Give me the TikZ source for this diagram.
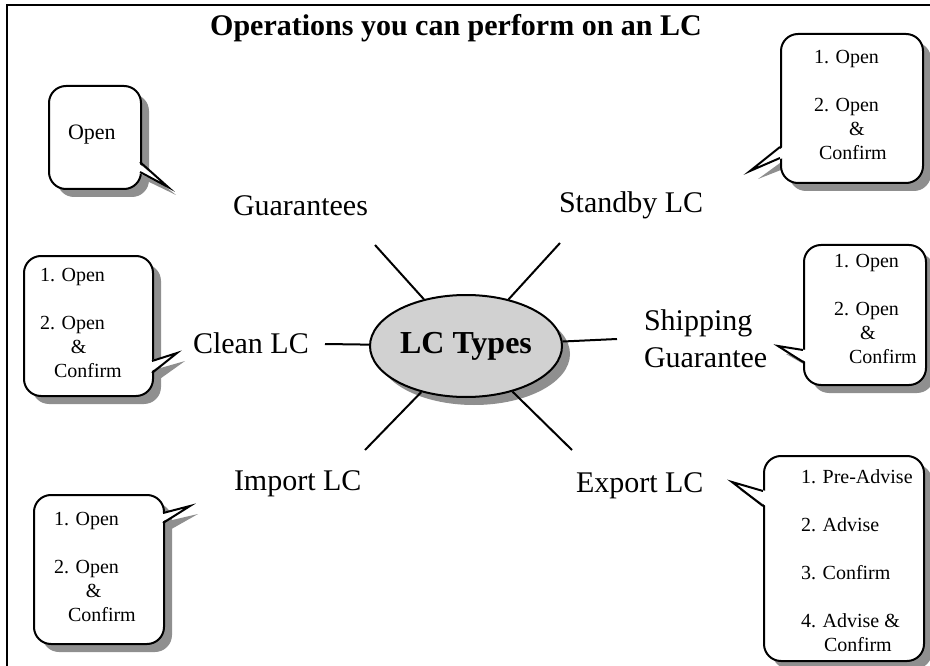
\documentclass[tikz,border=0pt]{standalone}
\usepackage{fontspec}
\setmainfont{Liberation Serif}
\usetikzlibrary{shapes.geometric,shadows}

\definecolor{shadowgray}{gray}{0.56}
\definecolor{ovalgray}{gray}{0.82}

\begin{document}
\begin{tikzpicture}[x=1pt,y=-1pt,line width=2pt,
  callout/.style={draw,fill=white,rounded corners=17pt,inner sep=0pt,anchor=north west,
    drop shadow={shadow xshift=8pt,shadow yshift=-8pt,fill=shadowgray,opacity=1}},
  item/.style={font=\fontsize{20}{24}\selectfont,align=left,inner sep=0pt,anchor=north west},
  kind/.style={font=\fontsize{30}{37}\selectfont,inner sep=0pt,anchor=base west}]
\useasboundingbox (0,0) rectangle (930,666);
\draw (7,680) -- (7,5) -- (940,5);

\foreach \ax/\ay/\px/\py/\bx/\by/\ix in {140/162/168/187/140/172/137, 780/147/750/171/780/158/783,
    152/361/177/353/152/373/149, 803/350/778/346/803/362/806,
    163/513/190/506/163/523/160, 763/491/732/482/763/506/766}
  \fill[shadowgray,shift={(8,8)}] (\ix,\ay) -- (\px,\py) -- (\ix,\by) -- cycle;

\node[callout,minimum width=92pt,minimum height=103pt] (openbox) at (48,85) {};
\node[callout,minimum width=142pt,minimum height=149pt] (standbox) at (780,33) {};
\node[callout,minimum width=129pt,minimum height=140pt] (cleanbox) at (23,255) {};
\node[callout,minimum width=122pt,minimum height=140pt] (shipbox) at (803,244) {};
\node[callout,minimum width=130pt,minimum height=149pt] (impbox) at (33,494) {};
\node[callout,minimum width=160pt,minimum height=205pt] (expbox) at (763,455) {};

\foreach \ax/\ay/\px/\py/\bx/\by/\ix in {140/162/168/187/140/172/137, 780/147/750/171/780/158/783,
    152/361/177/353/152/373/149, 803/350/778/346/803/362/806,
    163/513/190/506/163/523/160, 763/491/732/482/763/506/766}
{
  \fill[white] (\ix,\ay) -- (\px,\py) -- (\ix,\by) -- cycle;
  \draw (\ax,\ay) -- (\px,\py) -- (\bx,\by);
}

\node[item,anchor=base west,font=\fontsize{22}{26}\selectfont] (opentxt) at (67,140) {Open};
\node[item] (standtxt) at (813,49) {1. Open\\[24pt]2. Open\\\hspace*{35pt}\&\\\hspace*{5pt}Confirm};
\node[item] (cleantxt) at (39,267) {1. Open\\[24pt]2. Open\\\hspace*{31pt}\&\\\hspace*{14pt}Confirm};
\node[item] (shiptxt) at (833,253) {1. Open\\[24pt]2. Open\\\hspace*{26pt}\&\\\hspace*{15pt}Confirm};
\node[item] (imptxt) at (53,511) {1. Open\\[24pt]2. Open\\\hspace*{32pt}\&\\\hspace*{14pt}Confirm};
\node[item] (exptxt) at (800,469) {1. Pre-Advise\\[24pt]2. Advise\\[24pt]3. Confirm\\[24pt]4. Advise \&\\\hspace*{23pt}Confirm};

\node[font=\fontsize{30}{36}\bfseries\selectfont,inner sep=0pt,anchor=base] (title) at (456,36) {Operations you can perform on an LC};

\node[ellipse,draw,fill=ovalgray,minimum width=192pt,minimum height=102pt,inner sep=0pt,
  font=\fontsize{32}{38}\bfseries\selectfont,
  drop shadow={shadow xshift=8pt,shadow yshift=-8pt,fill=shadowgray,opacity=1}] (lc) at (466,346) {LC Types};

\coordinate (ul) at (375,245);
\coordinate (ur) at (560,243);
\coordinate (l) at (325,344);
\coordinate (r) at (617,339);
\coordinate (dl) at (365,450);
\coordinate (dr) at (572,450);
\foreach \c in {ul,ur,l,r,dl,dr}
  \draw (lc) -- (\c);

\node[kind] (guar) at (232,215) {Guarantees};
\node[kind] (stand) at (558,213) {Standby LC};
\node[kind] (clean) at (192,353) {Clean LC};
\node[kind,anchor=north west,align=left] (ship) at (643,309) {Shipping\\Guarantee};
\node[kind] (imp) at (233,490) {Import LC};
\node[kind] (exp) at (575,492) {Export LC};
\end{tikzpicture}
\end{document}
